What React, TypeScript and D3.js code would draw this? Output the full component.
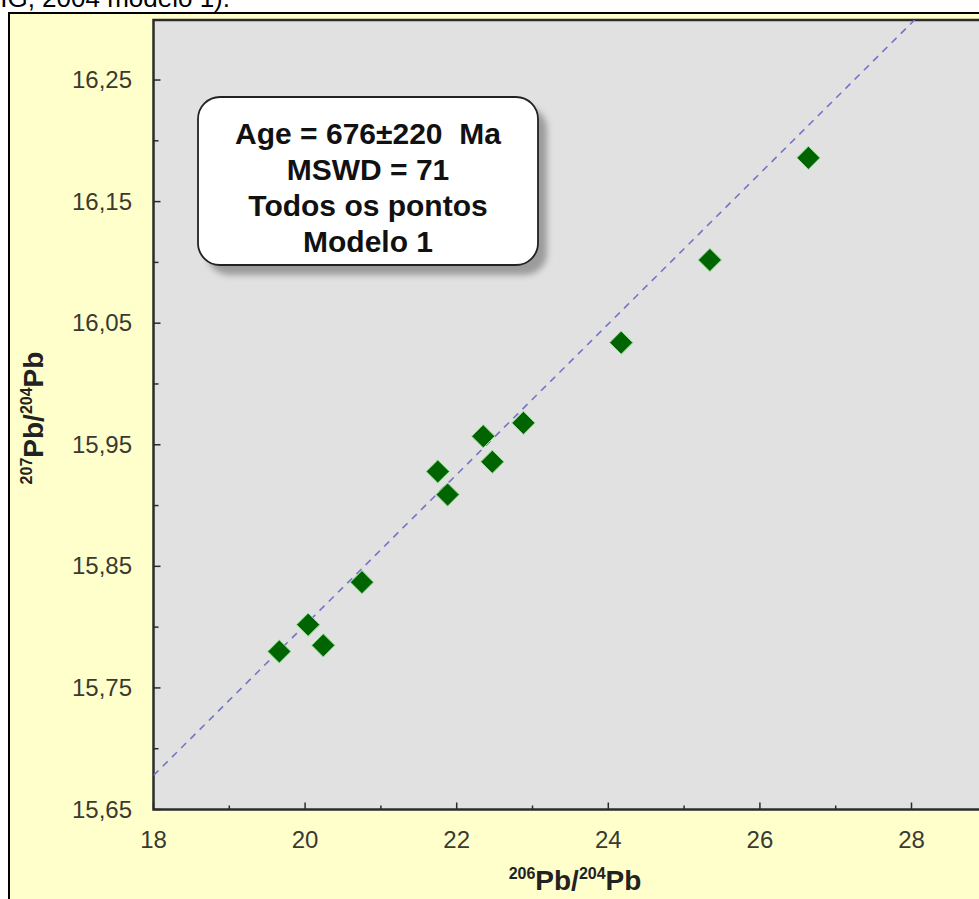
import React from "react";
import * as d3 from "d3";

// 206Pb/204Pb vs 207Pb/204Pb
const pb206 = [19.66, 20.04, 20.24, 20.75, 21.75, 21.88, 22.35, 22.47, 22.88, 24.17, 25.34, 26.64];
const pb207 = [15.78, 15.802, 15.785, 15.837, 15.928, 15.909, 15.957, 15.936, 15.968, 16.034, 16.102, 16.186];

// isochron endpoints
const lineX = [18, 28.05];
const lineY = [15.678, 16.3];

const xTicks = [18, 20, 22, 24, 26, 28];
const xMinor = [19, 21, 23, 25, 27];
const yTicks = [15.65, 15.75, 15.85, 15.95, 16.05, 16.15, 16.25];
const yMinor = [15.7, 15.8, 15.9, 16.0, 16.1, 16.2];

const boxLines = ["Age = 676±220  Ma", "MSWD = 71", "Todos os pontos", "Modelo 1"];

const W = 979;
const H = 899;
const font = "Arial, 'Liberation Sans', sans-serif";

export default function App() {
  const left = 153.5;
  const top = 20;
  const bottom = 809.5;
  const x = d3.scaleLinear().domain([18, 29]).range([left, left + 11 * 75.8]);
  const y = d3.scaleLinear().domain([15.65, 16.3]).range([bottom, bottom - 0.65 * 1215.8]);
  const right = x(29);
  const fmt = (v: number) => v.toFixed(2).replace(".", ",");

  const line = d3
    .line<number>()
    .x((d, i) => x(lineX[i]))
    .y((d) => y(d));

  const pts = pb206.map((v, i) => ({ x: v, y: pb207[i] }));
  const diamond = d3.symbol().type(d3.symbolDiamond2).size(340)();

  return (
    <svg
      width={W}
      height={H}
      style={{ position: "absolute", left: 0, top: 0, background: "#fff" }}
      fontFamily={font}
    >
      <defs>
        <clipPath id="plot">
          <rect x={left} y={top} width={right - left} height={bottom - top} />
        </clipPath>
        <filter id="shadow" x="-10%" y="-10%" width="130%" height="140%">
          <feGaussianBlur stdDeviation="3" />
        </filter>
      </defs>

      <text x={230} y={7} textAnchor="end" fontSize={26} fill="#000">
        (LUDWIG, 2004 modelo 1).
      </text>

      <rect x={9} y={13} width={1100} height={1000} fill="#ffffcc" stroke="#000" strokeWidth={2} />
      <rect x={left} y={top} width={right - left} height={bottom - top} fill="#e1e1e1" stroke="#2b2b2b" strokeWidth={2.5} />

      {/* ticks pointing inside */}
      {xTicks.map((t) => (
        <line key={"xt" + t} x1={x(t)} x2={x(t)} y1={bottom} y2={bottom - 7} stroke="#2b2b2b" strokeWidth={1.5} />
      ))}
      {xMinor.map((t) => (
        <line key={"xm" + t} x1={x(t)} x2={x(t)} y1={bottom} y2={bottom - 4} stroke="#2b2b2b" strokeWidth={1.5} />
      ))}
      {yTicks.map((t) => (
        <line key={"yt" + t} x1={left} x2={left + 7} y1={y(t)} y2={y(t)} stroke="#2b2b2b" strokeWidth={1.5} />
      ))}
      {yMinor.map((t) => (
        <line key={"ym" + t} x1={left} x2={left + 5} y1={y(t)} y2={y(t)} stroke="#2b2b2b" strokeWidth={1.5} />
      ))}

      {yTicks.map((t) => (
        <text key={"yl" + t} x={132} y={y(t) + 8} textAnchor="end" fontSize={24} fill="#3a3a30">
          {fmt(t)}
        </text>
      ))}
      {xTicks.map((t) => (
        <text key={"xl" + t} x={x(t)} y={848} textAnchor="middle" fontSize={24} fill="#3a3a30">
          {t}
        </text>
      ))}

      <text x={575} y={890} textAnchor="middle" fontSize={28} fontWeight="bold" fill="#222">
        <tspan fontSize={16} dy={-11}>206</tspan>
        <tspan dy={11}>Pb/</tspan>
        <tspan fontSize={16} dy={-11}>204</tspan>
        <tspan dy={11}>Pb</tspan>
      </text>
      <text
        transform={`translate(43,418) rotate(-90)`}
        textAnchor="middle"
        fontSize={28}
        fontWeight="bold"
        fill="#222"
      >
        <tspan fontSize={16} dy={-11}>207</tspan>
        <tspan dy={11}>Pb/</tspan>
        <tspan fontSize={16} dy={-11}>204</tspan>
        <tspan dy={11}>Pb</tspan>
      </text>

      <g clipPath="url(#plot)">
        <path d={line(lineY) || ""} fill="none" stroke="#7474c8" strokeWidth={1.6} strokeDasharray="7,6" />
        {pts.map((p, i) => (
          <path
            key={i}
            d={diamond || ""}
            transform={`translate(${x(p.x)},${y(p.y)})`}
            fill="#006400"
            stroke="#8fdc8f"
            strokeWidth={1}
          />
        ))}
      </g>

      <rect x={207} y={107} width={340} height={168} rx={22} fill="#8a8a8a" opacity={0.8} filter="url(#shadow)" />
      <rect x={198} y={97} width={340} height={168} rx={22} fill="#fff" stroke="#222" strokeWidth={1.8} />
      {boxLines.map((s, i) => (
        <text key={s} x={368} y={144 + i * 36} textAnchor="middle" fontSize={30} fontWeight="bold" fill="#111" style={{ whiteSpace: "pre" }}>
          {s}
        </text>
      ))}
    </svg>
  );
}
